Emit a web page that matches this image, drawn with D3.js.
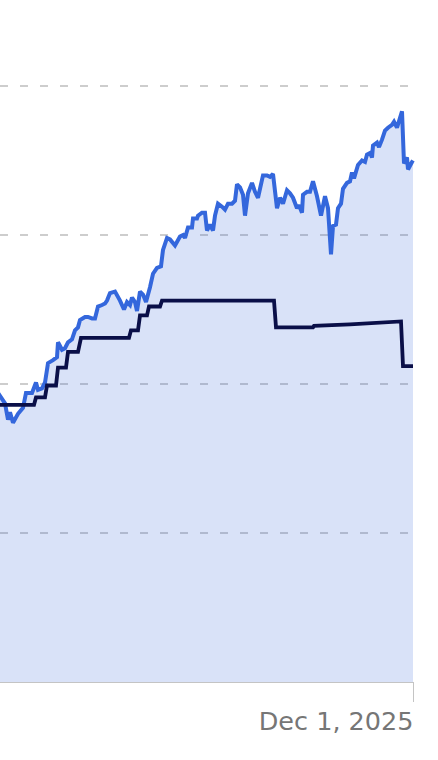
<!DOCTYPE html>
<html>
<head>
<meta charset="utf-8">
<script src="https://cdn.jsdelivr.net/npm/d3@7"></script>
<style>
  body { margin: 0; background: #fff; }
  svg { display: block; }
</style>
</head>
<body>
<script>
// Chart size matches the window
var width = 438,
    height = 760;

// last date on the axis, other dates are day offsets from it
var endDate = new Date(2025, 11, 1);

// blue series (area + line)
var blueDays = [-1248, -1239, -1230, -1224, -1215, -1209, -1200, -1185, -1170, -1161,
  -1143, -1131, -1125, -1113, -1104, -1095, -1080, -1068, -1065, -1053,
  -1044, -1035, -1023, -1014, -1005, -999, -984, -975, -963, -954,
  -945, -933, -924, -918, -909, -894, -879, -867, -858, -849,
  -843, -834, -828, -819, -810, -801, -789, -780, -768, -756,
  -750, -738, -729, -714, -699, -690, -684, -675, -663, -660,
  -648, -645, -633, -624, -618, -609, -600, -594, -585, -573,
  -564, -555, -543, -534, -528, -519, -510, -504, -495, -483,
  -474, -465, -450, -438, -429, -420, -408, -399, -390, -378,
  -369, -360, -348, -342, -333, -330, -318, -309, -300, -288,
  -276, -264, -255, -246, -240, -231, -225, -216, -210, -198,
  -189, -183, -177, -165, -153, -144, -138, -129, -123, -120,
  -108, -102, -93, -84, -75, -63, -57, -48, -33, -27,
  -18, -15, -3, 0];
var blueValues = [195, 192, 189, 187, 176, 181, 174, 180, 184, 194,
  194, 201, 196, 197, 201, 214, 216, 218, 228, 223,
  224, 228, 230, 236, 238, 243, 245, 245, 244, 244,
  252, 253, 254, 256, 261, 262, 256, 250, 255, 253,
  258, 255, 249, 262, 260, 255, 265, 274, 278, 279,
  290, 298, 297, 293, 299, 300, 298, 305, 305, 311,
  311, 313, 315, 315, 303, 307, 303, 313, 321, 319,
  317, 321, 321, 323, 334, 332, 327, 313, 328, 335,
  329, 325, 340, 340, 339, 341, 318, 325, 321, 330,
  328, 325, 318, 320, 315, 327, 329, 329, 336, 326,
  313, 326, 318, 287, 306, 307, 318, 321, 331, 335,
  336, 342, 338, 347, 350, 349, 354, 355, 352, 360,
  362, 359, 364, 370, 372, 374, 376, 372, 383, 348,
  352, 344, 349, 350];

// navy step series
var navyDays = [-1248, -1137, -1131, -1104, -1098, -1071, -1065, -1041, -1035, -1005,
  -996, -852, -846, -825, -819, -798, -792, -759, -753, -417,
  -411, -300, -297, -189, -36, -30, 0];
var navyValues = [186, 186, 191, 191, 199, 199, 211, 211, 221.5, 221.5,
  231, 231, 236, 236, 246, 246, 252, 252, 256, 256,
  238, 238, 239, 240, 242, 212, 212];

var gridValues = [100, 200, 300, 400];
var tickDates = [endDate];

var blueData = blueDays.map(function(d, i) {
  return { date: d3.timeDay.offset(endDate, d), value: blueValues[i] };
});
var navyData = navyDays.map(function(d, i) {
  return { date: d3.timeDay.offset(endDate, d), value: navyValues[i] };
});

var x = d3.scaleTime()
    .domain([d3.timeDay.offset(endDate, -1239), endDate])
    .range([0, 413]);

var y = d3.scaleLinear()
    .domain([0, 400])
    .range([682, 86]);

var svg = d3.select('body')
    .append('svg')
    .attr('width', width)
    .attr('height', height);

// dashed gridlines (drawn under the translucent area)
svg.append('g')
    .selectAll('line')
    .data(gridValues)
    .enter().append('line')
    .attr('x1', 0)
    .attr('x2', 408)
    .attr('y1', function(d) { return y(d); })
    .attr('y2', function(d) { return y(d); })
    .attr('stroke', '#9c9c9c')
    .attr('stroke-width', 1.2)
    .attr('stroke-dasharray', '8,12');

// x axis with the single date tick
var xAxis = d3.axisBottom(x)
    .tickValues(tickDates)
    .tickSize(20)
    .tickPadding(10)
    .tickFormat(d3.timeFormat('%b %-d, %Y'));

var gx = svg.append('g')
    .attr('transform', 'translate(0,' + y(0) + ')')
    .call(xAxis);

gx.select('.domain')
    .attr('d', 'M0,0.5H' + x(endDate))
    .attr('stroke', '#c4c4c4');
gx.selectAll('.tick line')
    .attr('stroke', '#c4c4c4');
gx.selectAll('.tick text')
    .attr('text-anchor', 'end')
    .attr('x', 0)
    .attr('fill', '#767676')
    .style('font-family', '"DejaVu Sans", sans-serif')
    .style('font-size', '25.5px');

// area under the blue line
var area = d3.area()
    .x(function(d) { return x(d.date); })
    .y0(y(0))
    .y1(function(d) { return y(d.value); });

svg.append('path')
    .datum(blueData)
    .attr('d', area)
    .attr('fill', '#3467dc')
    .attr('fill-opacity', 0.19);

var line = d3.line()
    .x(function(d) { return x(d.date); })
    .y(function(d) { return y(d.value); });

svg.append('path')
    .datum(blueData)
    .attr('d', line)
    .attr('fill', 'none')
    .attr('stroke', '#3467dc')
    .attr('stroke-width', 4)
    .attr('stroke-linejoin', 'miter')
    .attr('stroke-miterlimit', 2);

svg.append('path')
    .datum(navyData)
    .attr('d', line)
    .attr('fill', 'none')
    .attr('stroke', '#0a0f48')
    .attr('stroke-width', 3.8)
    .attr('stroke-linejoin', 'miter')
    .attr('stroke-miterlimit', 2);
</script>
</body>
</html>
